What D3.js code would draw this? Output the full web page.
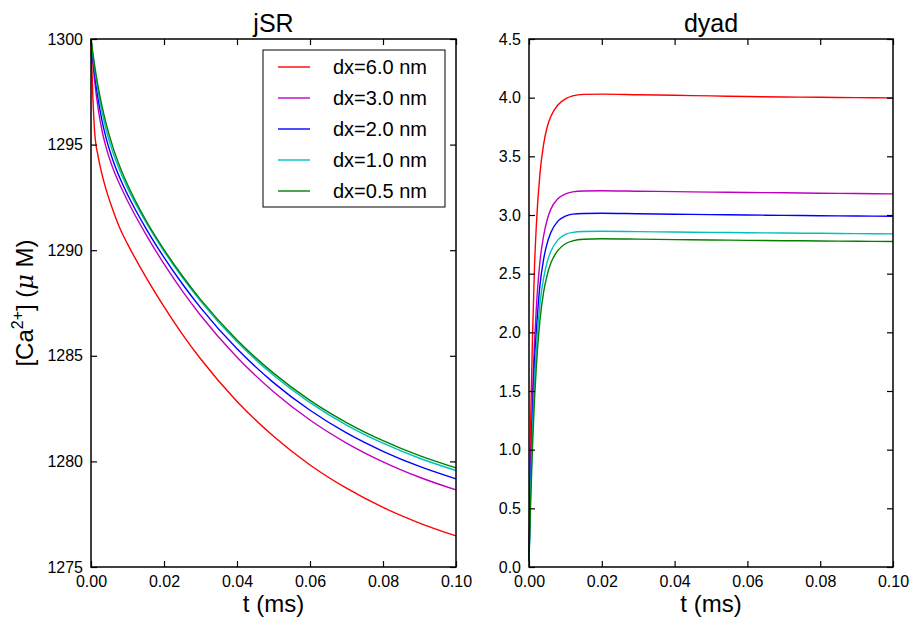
<!DOCTYPE html>
<html>
<head>
<meta charset="utf-8">
<script src="https://cdn.jsdelivr.net/npm/d3@7"></script>
<style>
  html, body { margin: 0; padding: 0; background: #fff; }
  svg { display: block; font-family: "Liberation Sans", Arial, Helvetica, sans-serif; }
</style>
</head>
<body>
<svg id="chart" width="916" height="622"></svg>
<script>
// ---------------- data ----------------
const seriesLabels = ["dx=6.0 nm", "dx=3.0 nm", "dx=2.0 nm", "dx=1.0 nm", "dx=0.5 nm"];
const seriesColors = ["#ff0000", "#bf00bf", "#0000ff", "#00bfbf", "#008000"];

// jSR panel
const tJsr = [0, 0.0005, 0.001, 0.002, 0.003, 0.004, 0.006, 0.008, 0.01, 0.015, 0.02, 0.025, 0.03, 0.04, 0.05, 0.06, 0.07, 0.08, 0.09, 0.1];
const jsr6  = [1300, 1297.3, 1295.6, 1294.4, 1293.6, 1292.95, 1291.9, 1291.0, 1290.3, 1288.74, 1287.33, 1286.03, 1284.86, 1282.84, 1281.19, 1279.83, 1278.73, 1277.82, 1277.08, 1276.47];
const jsr3  = [1300, 1298.90, 1298.01, 1296.65, 1295.68, 1294.95, 1293.88, 1293.06, 1292.34, 1290.76, 1289.35, 1288.07, 1286.92, 1284.93, 1283.30, 1281.96, 1280.87, 1279.98, 1279.25, 1278.65];
const jsr2  = [1300, 1299.10, 1298.33, 1297.09, 1296.15, 1295.40, 1294.26, 1293.38, 1292.64, 1291.05, 1289.66, 1288.41, 1287.28, 1285.33, 1283.73, 1282.42, 1281.35, 1280.48, 1279.76, 1279.17];
const jsr1  = [1300, 1299.25, 1298.58, 1297.46, 1296.56, 1295.81, 1294.64, 1293.73, 1292.95, 1291.34, 1289.95, 1288.71, 1287.59, 1285.66, 1284.08, 1282.78, 1281.72, 1280.86, 1280.15, 1279.57];
const jsr05 = [1300, 1299.34, 1298.74, 1297.70, 1296.83, 1296.09, 1294.88, 1293.92, 1293.11, 1291.43, 1290.03, 1288.79, 1287.67, 1285.75, 1284.18, 1282.89, 1281.84, 1280.98, 1280.27, 1279.69];

// dyad panel
const tDyad = [0, 0.0005, 0.001, 0.0015, 0.002, 0.003, 0.004, 0.005, 0.006, 0.008, 0.01, 0.012, 0.015, 0.02, 0.03, 0.04, 0.05, 0.06, 0.07, 0.08, 0.09, 0.1];
const dyad6  = [0.05, 1.3, 2.0, 2.55, 2.9, 3.35, 3.6, 3.75, 3.84, 3.94, 3.99, 4.015, 4.028, 4.03, 4.025, 4.02, 4.015, 4.01, 4.006, 4.003, 4.0, 3.998];
const dyad3  = [0.05, 0.9, 1.5, 1.9, 2.2, 2.6, 2.82, 2.96, 3.05, 3.14, 3.18, 3.197, 3.205, 3.207, 3.203, 3.199, 3.195, 3.192, 3.189, 3.186, 3.183, 3.18];
const dyad2  = [0.05, 0.8, 1.35, 1.75, 2.0, 2.4, 2.62, 2.76, 2.85, 2.95, 2.99, 3.007, 3.013, 3.015, 3.011, 3.007, 3.003, 3.0, 2.997, 2.994, 2.991, 2.989];
const dyad1  = [0.05, 0.7, 1.2, 1.58, 1.85, 2.24, 2.46, 2.6, 2.69, 2.79, 2.835, 2.852, 2.859, 2.861, 2.858, 2.855, 2.852, 2.849, 2.846, 2.844, 2.841, 2.839];
const dyad05 = [0.05, 0.6, 1.05, 1.42, 1.7, 2.1, 2.34, 2.49, 2.59, 2.7, 2.755, 2.78, 2.793, 2.797, 2.794, 2.79, 2.787, 2.784, 2.781, 2.779, 2.776, 2.774];

// ticks
const xTicks = [0, 0.02, 0.04, 0.06, 0.08, 0.10];
const jsrTicks = [1275, 1280, 1285, 1290, 1295, 1300];
const dyadTicks = [0, 0.5, 1.0, 1.5, 2.0, 2.5, 3.0, 3.5, 4.0, 4.5];

const panelTitles = ["jSR", "dyad"];
const xLabel = "t (ms)";

// ---------------- drawing ----------------
const svg = d3.select("#chart");
const plotTop = 39, plotBottom = 567;
const tickLen = 6;

function drawPanel(left, right, yDomain, yTicks, yFmt, tArr, seriesArr, title) {
  const x = d3.scaleLinear().domain([0, 0.1]).range([left, right]);
  const y = d3.scaleLinear().domain(yDomain).range([plotBottom, plotTop]);
  const g = svg.append("g");

  const line = d3.line().x((d) => x(d[0])).y((d) => y(d[1])).curve(d3.curveMonotoneX);
  seriesArr.forEach((vals, i) => {
    g.append("path")
      .datum(tArr.map((t, k) => [t, vals[k]]))
      .attr("fill", "none")
      .attr("stroke", seriesColors[i])
      .attr("stroke-width", 1.4)
      .attr("d", line);
  });

  const axStyle = (sel) => {
    sel.select(".domain").remove();
    sel.selectAll(".tick line").attr("stroke", "#000").attr("stroke-width", 1.2);
    sel.selectAll(".tick text").attr("fill", "#000").attr("font-size", 16)
      .attr("font-family", "Liberation Sans, Arial, sans-serif");
  };

  g.append("g").attr("transform", `translate(0,${plotBottom})`)
    .call(d3.axisBottom(x).tickValues(xTicks).tickFormat(d3.format(".2f")).tickSize(-tickLen).tickPadding(9))
    .call(axStyle);
  g.append("g").attr("transform", `translate(0,${plotTop})`)
    .call(d3.axisTop(x).tickValues(xTicks).tickFormat("").tickSize(-tickLen))
    .call(axStyle);
  g.append("g").attr("transform", `translate(${left},0)`)
    .call(d3.axisLeft(y).tickValues(yTicks).tickFormat(yFmt).tickSize(-tickLen).tickPadding(8))
    .call(axStyle);
  g.append("g").attr("transform", `translate(${right},0)`)
    .call(d3.axisRight(y).tickValues(yTicks).tickFormat("").tickSize(-tickLen))
    .call(axStyle);

  g.append("rect")
    .attr("x", left).attr("y", plotTop).attr("width", right - left).attr("height", plotBottom - plotTop)
    .attr("fill", "none").attr("stroke", "#000").attr("stroke-width", 1.5);

  g.append("text").attr("x", (left + right) / 2).attr("y", 32)
    .attr("text-anchor", "middle").attr("font-size", 25).text(title);
  g.append("text").attr("x", (left + right) / 2).attr("y", 612)
    .attr("text-anchor", "middle").attr("font-size", 24).text(xLabel);
  return { x, y };
}

drawPanel(91, 456, [1275, 1300], jsrTicks, d3.format("d"), tJsr, [jsr6, jsr3, jsr2, jsr1, jsr05], panelTitles[0]);
drawPanel(529, 893, [0, 4.5], dyadTicks, d3.format(".1f"), tDyad, [dyad6, dyad3, dyad2, dyad1, dyad05], panelTitles[1]);

// y label
const yl = svg.append("text")
  .attr("transform", "translate(33,303) rotate(-90)")
  .attr("text-anchor", "middle").attr("font-size", 24);
yl.append("tspan").text("[Ca");
yl.append("tspan").attr("font-size", 16).attr("dy", -10).text("2+");
yl.append("tspan").attr("dy", 10).text("] (");
yl.append("tspan").attr("font-style", "italic").attr("font-family", "DejaVu Serif, serif").text("μ");
yl.append("tspan").text(" M)");

// legend
const lg = svg.append("g");
lg.append("rect").attr("x", 263).attr("y", 50).attr("width", 182).attr("height", 157)
  .attr("fill", "#fff").attr("stroke", "#000").attr("stroke-width", 1);
seriesLabels.forEach((lab, i) => {
  const cy = 67 + i * 31;
  lg.append("line").attr("x1", 278).attr("x2", 310).attr("y1", cy).attr("y2", cy)
    .attr("stroke", seriesColors[i]).attr("stroke-width", 1.4);
  lg.append("text").attr("x", 333).attr("y", cy + 7).attr("font-size", 20).text(lab);
});
</script>
</body>
</html>
